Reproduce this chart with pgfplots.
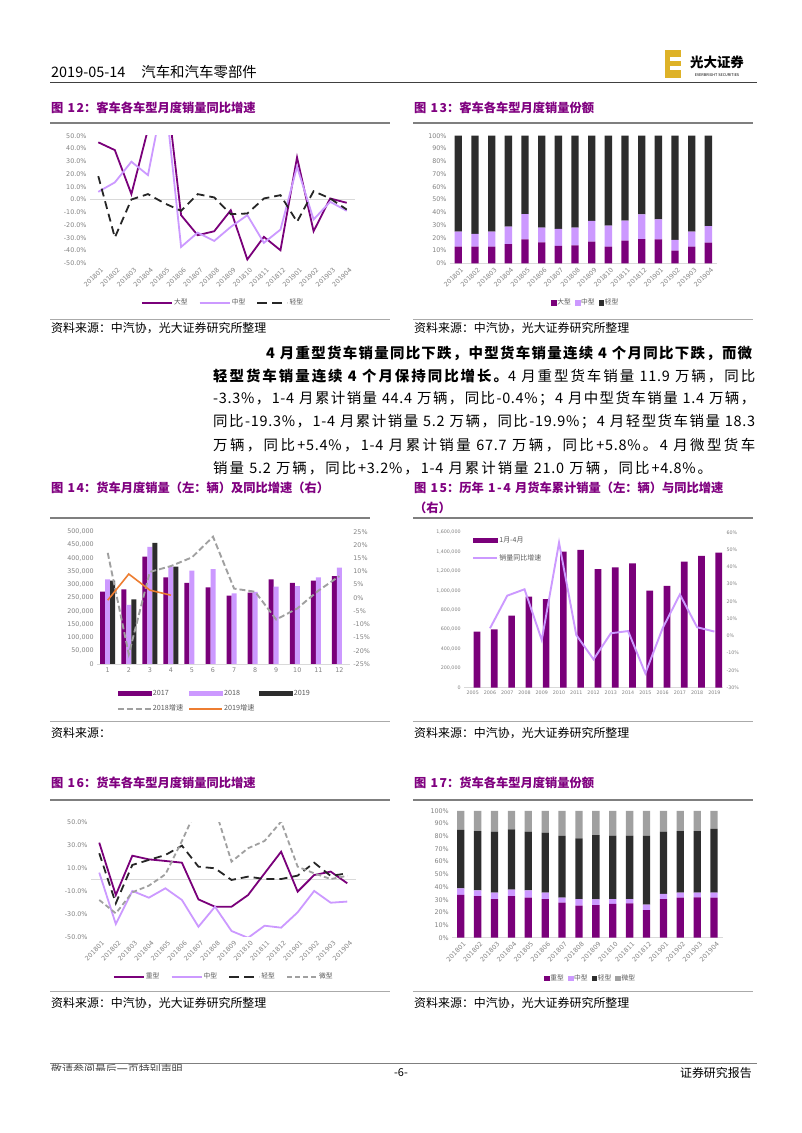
\documentclass[border=0pt]{standalone}
\usepackage{fontspec}
\setmainfont{Noto Sans CJK SC}
\newfontfamily\dv{DejaVu Sans}
\newfontfamily\tf[LetterSpace=12]{Noto Sans CJK SC}
\newfontfamily\pf[LetterSpace=5]{Noto Sans CJK SC}
\usepackage{pgfplots}
\pgfplotsset{compat=1.18}

% stretchable glue between CJK characters (for justified lines)
\ifdefined\newXeTeXintercharclass \newXeTeXintercharclass\CJKc \else \chardef\CJKc=3 \fi
\count255="3000
\loop \XeTeXcharclass\count255=\CJKc \ifnum\count255<"303F \advance\count255 by 1 \repeat
\count255="4E00
\loop \XeTeXcharclass\count255=\CJKc \ifnum\count255<"9FFF \advance\count255 by 1 \repeat
\count255="FF00
\loop \XeTeXcharclass\count255=\CJKc \ifnum\count255<"FFEF \advance\count255 by 1 \repeat
\XeTeXinterchartoks\CJKc\CJKc={\hskip0pt plus 3pt minus 0.4pt\relax}
\XeTeXinterchartoks\CJKc 0={\hskip0pt plus 3pt minus 0.4pt\relax}
\XeTeXinterchartoks 0\CJKc={\hskip0pt plus 3pt minus 0.4pt\relax}
\XeTeXinterchartokenstate=1

\definecolor{cP}{RGB}{122,0,122}
\definecolor{cL}{RGB}{204,153,255}
\definecolor{cK}{RGB}{38,38,38}
\definecolor{cBar}{RGB}{45,45,45}
\definecolor{cG}{RGB}{160,160,160}
\definecolor{cO}{RGB}{237,125,49}
\definecolor{cT}{RGB}{128,0,128}
\definecolor{cTick}{RGB}{130,130,130}
\definecolor{cLeg}{RGB}{89,89,89}
\definecolor{cZero}{RGB}{217,217,217}
\definecolor{cGold}{RGB}{222,178,40}
\definecolor{cRule}{RGB}{127,127,127}
\definecolor{cRule2}{RGB}{170,170,170}

\newcommand\LegSq[1]{\addlegendimage{legend image code/.code={\fill[#1] (0bp,-2.4bp) rectangle (4.8bp,2.4bp);}}}
\newcommand\LegLn[2]{\addlegendimage{legend image code/.code={\draw[#2] (0bp,0bp) -- (#1,0bp);}}}
\newcommand\LegBar[2]{\addlegendimage{legend image code/.code={\fill[#2] (0bp,-2bp) rectangle (#1,2bp);}}}

\pgfplotsset{
  base/.style={scale only axis, anchor=south west, major tick length=0pt, enlargelimits=false,
    tick label style={font=\dv\fontsize{6.4}{7.5}\selectfont, text=cTick},
    /pgf/number format/assume math mode=true,
    legend style={draw=none, fill=none, font=\fontsize{6.8}{8}\selectfont, text=cLeg, inner sep=0pt, outer sep=0pt, nodes={inner sep=1bp}},
    legend cell align=left,
  },
  monthticks/.style={xmin=-0.5, xmax=15.5, xtick={0,...,15},
    xticklabels={201801,201802,201803,201804,201805,201806,201807,201808,201809,201810,201811,201812,201901,201902,201903,201904},
    xticklabel style={rotate=45, anchor=north east, inner sep=1bp, yshift=-3bp}},
}

\newcommand\ttl[1]{{\tf\bfseries\fontsize{12.3}{14}\selectfont\color{cT}#1}}
\newcommand\src[1]{{\fontsize{12}{13}\selectfont #1}}

\begin{document}
\begin{tikzpicture}[x=1bp,y=1bp]
\useasboundingbox (0,0) rectangle (802,1133);
\fill[white] (0,0) rectangle (802,1133);

% ---------- header ----------
\node[anchor=base west, inner sep=0] at (51,1055.5) {\fontsize{14.5}{16}\selectfont 2019-05-14\hspace{16bp}汽车和汽车零部件};
\draw[line width=0.9bp, black!75] (50,1051) -- (757,1051);
\fill[cGold] (665,1055) rectangle (681,1083);
\fill[white] (670,1062.5) rectangle (681,1066.5);
\fill[white] (670,1071.5) rectangle (681,1075.5);
\node[inner sep=0] at (717,1071) {\bfseries\fontsize{13.5}{15}\selectfont 光大证券};
\node[inner sep=0] at (717,1058) {\fontsize{3.8}{4}\selectfont EVERBRIGHT SECURITIES};

% ---------- titles row 1 ----------
\node[anchor=west, inner sep=0] at (51,1025) {\ttl{图 12：客车各车型月度销量同比增速}};
\node[anchor=west, inner sep=0] at (414,1025) {\ttl{图 13：客车各车型月度销量份额}};
\draw[line width=1.4bp, cRule] (50,1010) -- (390,1010);
\draw[line width=1.4bp, cRule] (413,1010) -- (753,1010);
\draw[line width=1bp, cRule2] (50,813.7) -- (390,813.7);
\draw[line width=1bp, cRule2] (413,813.7) -- (753,813.7);
\node[anchor=west, inner sep=0] at (51,805) {\src{资料来源：中汽协，光大证券研究所整理}};
\node[anchor=west, inner sep=0] at (414,805) {\src{资料来源：中汽协，光大证券研究所整理}};

% ---------- Figure 12 ----------
\begin{axis}[base, monthticks, at={(90bp,869.7bp)}, width=265bp, height=127.6bp,
  ymin=-50, ymax=50, ytick={-50,-40,...,50},
  yticklabel={\pgfmathprintnumber[fixed,fixed zerofill,precision=1]{\tick}\%},
  axis line style={draw=none},
  extra y ticks={0}, extra y tick labels={}, extra y tick style={grid=major, major grid style={draw=cZero, line width=0.7bp}},
  legend columns=3, legend style={at={(0.5,-0.309)}, anchor=center, /tikz/every even column/.append style={column sep=10bp}}]
\addplot[cP, line width=1.8bp, forget plot] coordinates {(0,44.8)(1,38.7)(2,4.2)(3,55)(4,100)(5,-12.3)(6,-28)(7,-24.9)(8,-8.4)(9,-47)(10,-29.3)(11,-39.8)(12,33)(13,-24.9)(14,0.8)(15,-2.6)};
\addplot[cL, line width=1.8bp, forget plot] coordinates {(0,6)(1,13.4)(2,29.6)(3,19.1)(4,85)(5,-37.2)(6,-26)(7,-32.5)(8,-21.5)(9,-12.3)(10,-34)(11,-23.6)(12,25.7)(13,-15.7)(14,-1.8)(15,-8.9)};
\addplot[cK, line width=1.8bp, dash pattern=on 8bp off 5bp, forget plot] coordinates {(0,18.3)(1,-29.8)(2,0)(3,4.2)(4,-3)(5,-8.9)(6,4.2)(7,1.6)(8,-11.5)(9,-11)(10,0.8)(11,3.4)(12,-17.5)(13,6.5)(14,0.8)(15,-7.9)};
\LegLn{30bp}{cP,line width=2.2bp}\addlegendentry{大型}
\LegLn{30bp}{cL,line width=2.2bp}\addlegendentry{中型}
\LegLn{30bp}{cK,line width=2.2bp,dash pattern=on 10bp off 5bp}\addlegendentry{轻型}
\end{axis}

% ---------- Figure 13 ----------
\begin{axis}[base, monthticks, at={(450bp,869.7bp)}, width=266.7bp, height=127.6bp,
  ybar stacked, bar width=7.3bp,
  ymin=0, ymax=100, ytick={0,10,...,100},
  yticklabel={\pgfmathprintnumber{\tick}\%},
  axis x line=bottom, axis y line=left,
  x axis line style={draw=cZero,-}, y axis line style={draw=none},
  legend columns=3, legend style={at={(0.507,-0.309)}, anchor=center, /tikz/every even column/.append style={column sep=3bp}}]
\addplot[fill=cP, draw=none, forget plot] coordinates {(0,13)(1,13)(2,13)(3,15)(4,18.8)(5,16.4)(6,13.6)(7,14.1)(8,17)(9,13)(10,17.8)(11,19)(12,18.8)(13,9.9)(14,13)(15,16.2)};
\addplot[fill=cL, draw=none, forget plot] coordinates {(0,11.8)(1,10)(2,11.8)(3,13.7)(4,19.8)(5,11.5)(6,13.3)(7,13.8)(8,16.2)(9,16.5)(10,15.6)(11,19.4)(12,15.7)(13,8.4)(14,11.8)(15,13)};
\addplot[fill=cBar, draw=none, forget plot] coordinates {(0,75.2)(1,77)(2,75.2)(3,71.3)(4,61.4)(5,72.1)(6,73.1)(7,72.1)(8,66.8)(9,70.5)(10,66.6)(11,61.6)(12,65.5)(13,81.7)(14,75.2)(15,70.8)};
\LegSq{cP}\addlegendentry{大型}
\LegSq{cL}\addlegendentry{中型}
\LegSq{cBar}\addlegendentry{轻型}
\end{axis}

% ---------- paragraph ----------
\node[anchor=west, inner sep=0] at (266,780) {\makebox[486bp][s]{\pf\bfseries\fontsize{14.5}{16}\selectfont 4 月重型货车销量同比下跌，中型货车销量连续 4 个月同比下跌，而微}};
\node[anchor=west, inner sep=0] at (213,757) {\makebox[542bp][s]{\pf\fontsize{14.5}{16}\selectfont{\bfseries 轻型货车销量连续 4 个月保持同比增长。}4 月重型货车销量 11.9 万辆，同比}};
\node[anchor=west, inner sep=0] at (213,734) {\makebox[542bp][s]{\pf\fontsize{14.5}{16}\selectfont -3.3\%，1-4 月累计销量 44.4 万辆，同比-0.4\%；4 月中型货车销量 1.4 万辆，}};
\node[anchor=west, inner sep=0] at (213,711) {\makebox[542bp][s]{\pf\fontsize{14.5}{16}\selectfont 同比-19.3\%，1-4 月累计销量 5.2 万辆，同比-19.9\%；4 月轻型货车销量 18.3}};
\node[anchor=west, inner sep=0] at (213,688) {\makebox[542bp][s]{\pf\fontsize{14.5}{16}\selectfont 万辆，同比+5.4\%，1-4 月累计销量 67.7 万辆，同比+5.8\%。4 月微型货车}};
\node[anchor=west, inner sep=0] at (213,665) {\makebox[499bp][s]{\pf\fontsize{14.5}{16}\selectfont 销量 5.2 万辆，同比+3.2\%，1-4 月累计销量 21.0 万辆，同比+4.8\%。}};

% ---------- titles row 2 ----------
\node[anchor=west, inner sep=0] at (51,645) {\ttl{图 14：货车月度销量（左：辆）及同比增速（右）}};
\node[anchor=west, inner sep=0] at (414,645) {\ttl{图 15：历年 1-4 月货车累计销量（左：辆）与同比增速}};
\node[anchor=west, inner sep=0] at (414,625) {\ttl{（右）}};
\draw[line width=1.4bp, cRule] (50,615) -- (370,615);
\draw[line width=1.4bp, cRule] (413,615) -- (753,615);
\draw[line width=1bp, cRule2] (50,411) -- (390,411);
\draw[line width=1bp, cRule2] (413,411) -- (753,411);
\node[anchor=west, inner sep=0] at (51,400) {\src{资料来源：}};
\node[anchor=west, inner sep=0] at (414,400) {\src{资料来源：中汽协，光大证券研究所整理}};

% ---------- Figure 14 ----------
\begin{axis}[base, at={(97.2bp,469bp)}, width=252.7bp, height=132.3bp,
  ybar, bar width=5bp,
  xmin=0.5, xmax=12.5, xtick={1,...,12},
  ymin=0, ymax=500000, ytick={0,50000,100000,150000,200000,250000,300000,350000,400000,450000,500000},
  scaled y ticks=false,
  yticklabel style={/pgf/number format/fixed, /pgf/number format/1000 sep={,}},
  axis x line=bottom, axis y line=left,
  x axis line style={draw=cZero,-}, y axis line style={draw=none},
  legend columns=3, legend style={at={(0.078,-0.19)}, anchor=north west, font=\fontsize{7.2}{8.5}\selectfont, row sep=6bp, /tikz/every even column/.append style={column sep=4bp}}]
\addplot[fill=cP, draw=none, bar shift=-5bp, forget plot] coordinates {(1,273300)(2,282000)(3,405500)(4,327000)(5,307000)(6,289700)(7,258000)(8,269500)(9,320000)(10,307000)(11,315000)(12,332500)};
\addplot[fill=cL, draw=none, bar shift=0bp, forget plot] coordinates {(1,320000)(2,223000)(3,443000)(4,368000)(5,352600)(6,359000)(7,267000)(8,273000)(9,292000)(10,294700)(11,327500)(12,364000)};
\addplot[fill=cBar, draw=none, bar shift=5bp, forget plot] coordinates {(1,315000)(2,244000)(3,458000)(4,368000)};
\LegBar{33bp}{cP}\addlegendentry{2017}
\LegBar{33bp}{cL}\addlegendentry{2018}
\LegBar{33bp}{cBar}\addlegendentry{2019}
\LegLn{33bp}{cG,line width=2bp,dash pattern=on 6bp off 3bp}\addlegendentry{2018增速}
\LegLn{33bp}{cO,line width=2bp}\addlegendentry{2019增速}
\end{axis}
\begin{axis}[base, at={(97.2bp,469bp)}, width=252.7bp, height=132.3bp,
  xmin=0.5, xmax=12.5, axis x line=none,
  ymin=-25, ymax=25, ytick={-25,-20,...,25},
  yticklabel={\pgfmathprintnumber{\tick}\%},
  axis y line*=right, y axis line style={draw=none}]
\addplot[cG, line width=1.9bp, dash pattern=on 6bp off 3bp] coordinates {(1,17)(2,-21.3)(3,9.8)(4,12)(5,15.3)(6,23.1)(7,3.5)(8,2.3)(9,-8.2)(10,-4)(11,2.7)(12,8.2)};
\addplot[cO, line width=1.6bp] coordinates {(1,-0.9)(2,9)(3,2.9)(4,1)};
\end{axis}

% ---------- Figure 15 ----------
\begin{axis}[base, at={(464.1bp,445.3bp)}, width=258.9bp, height=155.4bp,
  tick label style={font=\dv\fontsize{4.8}{5.5}\selectfont, text=cTick},
  ybar, bar width=6.7bp,
  xmin=2004.5, xmax=2019.5, xtick={2005,2006,2007,2008,2009,2010,2011,2012,2013,2014,2015,2016,2017,2018,2019},
  xticklabels={2005,2006,2007,2008,2009,2010,2011,2012,2013,2014,2015,2016,2017,2018,2019},
  ymin=0, ymax=1600000, ytick={0,200000,400000,600000,800000,1000000,1200000,1400000,1600000},
  scaled y ticks=false,
  yticklabel style={/pgf/number format/fixed, /pgf/number format/1000 sep={,}},
  axis x line=bottom, axis y line=left,
  x axis line style={draw=cZero,-}, y axis line style={draw=none},
  legend style={at={(0.032,0.975)}, anchor=north west, font=\fontsize{7}{8}\selectfont, row sep=8bp}]
\addplot[fill=cP, draw=none, forget plot] coordinates {(2005,577000)(2006,601000)(2007,741600)(2008,937000)(2009,913000)(2010,1401000)(2011,1418000)(2012,1222000)(2013,1239500)(2014,1280700)(2015,999000)(2016,1047000)(2017,1298000)(2018,1356000)(2019,1390500)};
\LegBar{24bp}{cP}\addlegendentry{1月-4月}
\LegLn{24bp}{cL,line width=2bp}\addlegendentry{销量同比增速}
\end{axis}
\begin{axis}[base, at={(464.1bp,445.3bp)}, width=258.9bp, height=155.4bp,
  tick label style={font=\dv\fontsize{4.8}{5.5}\selectfont, text=cTick},
  xmin=2004.5, xmax=2019.5, axis x line=none,
  ymin=-30, ymax=60, ytick={-30,-20,...,60},
  yticklabel={\pgfmathprintnumber{\tick}\%},
  axis y line*=right, y axis line style={draw=none}]
\addplot[cL, line width=1.9bp] coordinates {(2006,4.4)(2007,23.3)(2008,27)(2009,-2.4)(2010,54)(2011,0.5)(2012,-13.6)(2013,1.5)(2014,2.8)(2015,-21.7)(2016,4.4)(2017,24)(2018,5)(2019,2.5)};
\end{axis}

% ---------- titles row 3 ----------
\node[anchor=west, inner sep=0] at (51,350) {\ttl{图 16：货车各车型月度销量同比增速}};
\node[anchor=west, inner sep=0] at (414,350) {\ttl{图 17：货车各车型月度销量份额}};
\draw[line width=1.4bp, cRule] (50,333) -- (390,333);
\draw[line width=1.4bp, cRule] (413,333) -- (753,333);
\draw[line width=1bp, cRule2] (50,141) -- (390,141);
\draw[line width=1bp, cRule2] (413,141) -- (753,141);
\node[anchor=west, inner sep=0] at (51,130) {\src{资料来源：中汽协，光大证券研究所整理}};
\node[anchor=west, inner sep=0] at (414,130) {\src{资料来源：中汽协，光大证券研究所整理}};

% ---------- Figure 16 ----------
\begin{axis}[base, monthticks, at={(91bp,196.3bp)}, width=264.5bp, height=114.4bp,
  ymin=-50, ymax=50, ytick={-50,-30,...,50},
  yticklabel={\pgfmathprintnumber[fixed,fixed zerofill,precision=1]{\tick}\%},
  axis line style={draw=none},
  extra y ticks={0}, extra y tick labels={}, extra y tick style={grid=major, major grid style={draw=cZero, line width=0.7bp}},
  legend columns=4, legend style={at={(0.5,-0.35)}, anchor=center, /tikz/every even column/.append style={column sep=10bp}}]
\addplot[cP, line width=1.8bp, forget plot] coordinates {(0,32.2)(1,-13.6)(2,20.8)(3,17.6)(4,16.2)(5,14.7)(6,-17.4)(7,-23.8)(8,-23.8)(9,-13.6)(10,5.4)(11,24.3)(12,-10.6)(13,3.9)(14,6.9)(15,-3.3)};
\addplot[cL, line width=1.8bp, forget plot] coordinates {(0,6)(1,-38.9)(2,-10)(3,-15.9)(4,-7.7)(5,-17.9)(6,-41.3)(7,-23.8)(8,-45)(9,-51)(10,-40.4)(11,-42.1)(12,-28.7)(13,-10)(14,-20.3)(15,-19.3)};
\addplot[cK, line width=1.8bp, dash pattern=on 8bp off 5bp, forget plot] coordinates {(0,22.9)(1,-20.8)(2,12.7)(3,17.1)(4,21.4)(5,29.6)(6,11.2)(7,9.8)(8,-0.4)(9,2.5)(10,0.4)(11,0.4)(12,3.4)(13,14.7)(14,3.1)(15,5.4)};
\addplot[cG, line width=1.8bp, dash pattern=on 5bp off 3bp, forget plot] coordinates {(0,-17.9)(1,-29.6)(2,-11.2)(3,-5.4)(4,4.5)(5,33.7)(6,65)(7,62)(8,15.6)(9,27.3)(10,33.7)(11,50.6)(12,11.2)(13,5.4)(14,0.4)(15,3.2)};
\LegLn{30bp}{cP,line width=2.2bp}\addlegendentry{重型}
\LegLn{30bp}{cL,line width=2.2bp}\addlegendentry{中型}
\LegLn{30bp}{cK,line width=2.2bp,dash pattern=on 10bp off 5bp}\addlegendentry{轻型}
\LegLn{30bp}{cG,line width=2.2bp,dash pattern=on 5bp off 3bp}\addlegendentry{微型}
\end{axis}

% ---------- Figure 17 ----------
\begin{axis}[base, monthticks, at={(452.3bp,195.3bp)}, width=270.2bp, height=126.7bp,
  ybar stacked, bar width=7.3bp,
  ymin=0, ymax=100, ytick={0,10,...,100},
  yticklabel={\pgfmathprintnumber{\tick}\%},
  axis x line=bottom, axis y line=left,
  x axis line style={draw=cZero,-}, y axis line style={draw=none},
  legend columns=4, legend style={at={(0.51,-0.32)}, anchor=center, /tikz/every even column/.append style={column sep=3bp}}]
\addplot[fill=cP, draw=none, forget plot] coordinates {(0,33.7)(1,32.9)(2,30.5)(3,32.9)(4,31.6)(5,30.5)(6,27.6)(7,25.3)(8,25.8)(9,26.6)(10,27.1)(11,21.8)(12,30.5)(13,31.6)(14,31.8)(15,31.6)};
\addplot[fill=cL, draw=none, forget plot] coordinates {(0,5.2)(1,4.5)(2,5.0)(3,5.0)(4,5.8)(5,5.0)(6,4.0)(7,5.2)(8,4.5)(9,3.9)(10,3.4)(11,4.3)(12,4.0)(13,3.9)(14,3.7)(15,3.9)};
\addplot[fill=cBar, draw=none, forget plot] coordinates {(0,46.1)(1,46.8)(2,48.2)(3,47.6)(4,46.3)(5,47.4)(6,48.7)(7,47.9)(8,50.7)(9,50.0)(10,50.0)(11,54.2)(12,49.2)(13,48.7)(14,48.7)(15,50.3)};
\addplot[fill=cG, draw=none, forget plot] coordinates {(0,15)(1,15.8)(2,16.3)(3,14.5)(4,16.3)(5,17.1)(6,19.7)(7,21.6)(8,19)(9,19.5)(10,19.5)(11,19.7)(12,16.3)(13,15.8)(14,15.8)(15,14.2)};
\LegSq{cP}\addlegendentry{重型}
\LegSq{cL}\addlegendentry{中型}
\LegSq{cBar}\addlegendentry{轻型}
\LegSq{cG}\addlegendentry{微型}
\end{axis}

% ---------- footer ----------
\draw[line width=0.9bp, cRule] (50,70) -- (757,70);
\begin{scope}
\clip (45,62.5) rectangle (300,69);
\node[anchor=west, inner sep=0, text=black!70] at (51,64) {\fontsize{11}{12}\selectfont 敬请参阅最后一页特别声明};
\end{scope}
\node[inner sep=0] at (401,60) {\fontsize{11}{12}\selectfont -6-};
\node[anchor=east, inner sep=0] at (752,60) {\fontsize{12}{13}\selectfont 证券研究报告};
\end{tikzpicture}
\end{document}
